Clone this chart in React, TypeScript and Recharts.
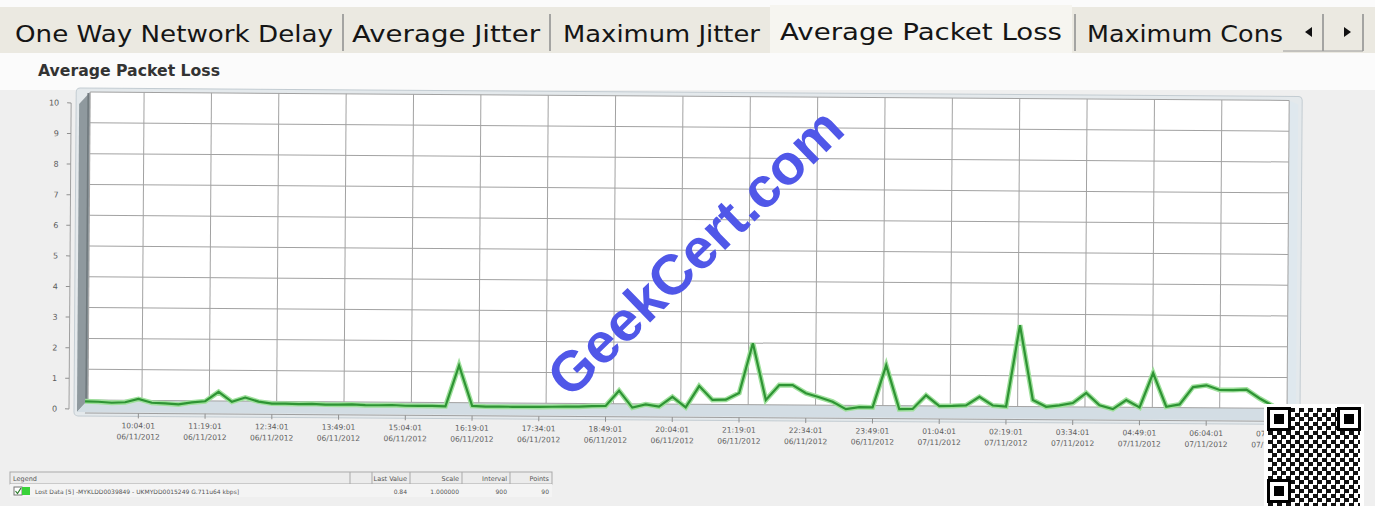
import React from "react";
import { CartesianGrid, Line, LineChart, XAxis, YAxis } from "recharts";

// Average packet loss, one sample every 15 minutes (90 points)
const lossValues = [
  0.25, 0.24, 0.21, 0.23, 0.34, 0.22, 0.2, 0.17, 0.24, 0.28,
  0.59, 0.27, 0.41, 0.28, 0.22, 0.22, 0.21, 0.22, 0.2, 0.2,
  0.21, 0.19, 0.19, 0.2, 0.18, 0.18, 0.18, 0.17, 1.51, 0.19,
  0.17, 0.17, 0.17, 0.17, 0.17, 0.18, 0.19, 0.19, 0.21, 0.22,
  0.72, 0.17, 0.28, 0.21, 0.53, 0.19, 0.89, 0.44, 0.45, 0.67,
  2.3, 0.45, 0.94, 0.94, 0.68, 0.55, 0.41, 0.17, 0.24, 0.23,
  1.61, 0.18, 0.19, 0.64, 0.29, 0.3, 0.32, 0.6, 0.32, 0.29,
  2.95, 0.51, 0.29, 0.34, 0.42, 0.75, 0.35, 0.23, 0.53, 0.29,
  1.42, 0.32, 0.4, 0.97, 1.03, 0.88, 0.88, 0.9, 0.61, 0.37,
];

const tickIndex = [4, 9, 14, 19, 24, 29, 34, 39, 44, 49, 54, 59, 64, 69, 74, 79, 84, 89];
const tickTimes = [
  "10:04:01", "11:19:01", "12:34:01", "13:49:01", "15:04:01", "16:19:01",
  "17:34:01", "18:49:01", "20:04:01", "21:19:01", "22:34:01", "23:49:01",
  "01:04:01", "02:19:01", "03:34:01", "04:49:01", "06:04:01", "07:19:01",
];
const tickDates = [
  "06/11/2012", "06/11/2012", "06/11/2012", "06/11/2012", "06/11/2012", "06/11/2012",
  "06/11/2012", "06/11/2012", "06/11/2012", "06/11/2012", "06/11/2012", "06/11/2012",
  "07/11/2012", "07/11/2012", "07/11/2012", "07/11/2012", "07/11/2012", "07/11/2012",
];
const yTicks = [0, 1, 2, 3, 4, 5, 6, 7, 8, 9, 10];

const tabLabels = ["One Way Network Delay", "Average Jitter", "Maximum Jitter", "Average Packet Loss", "Maximum Cons"];
const legendHeaders = ["Legend", "Last Value", "Scale", "Interval", "Points"];
const legendRow = ["Lost Data [5] -MYKLDD0039849 - UKMYDD0015249 G.711u64 kbps]", "0.84", "1.000000", "900", "90"];

const chartData = lossValues.map((v, i) => ({ idx: i, loss: v }));

const W = 1375;
const H = 506;
const FONT = "'DejaVu Sans', Verdana, sans-serif";

// tab text layout: [x, length, baseline]
const tabLayout = [
  [15, 318, 42],
  [352, 188, 42],
  [563, 197, 42],
  [780, 282, 40],
  [1087, 196, 42],
];

// legend table columns: [left, right]
const legendCols = [
  [10, 350],
  [372, 410],
  [410, 462],
  [462, 510],
  [510, 552],
];

function TimeTick(props: any) {
  const { x, y, payload } = props;
  const k = tickIndex.indexOf(payload.value);
  if (k < 0) return null;
  return (
    <g fill="#5c5c5c" fontFamily={FONT} fontSize={7.5} textAnchor="middle">
      <text x={x} y={y + 8}>{tickTimes[k]}</text>
      <text x={x} y={y + 19}>{tickDates[k]}</text>
    </g>
  );
}

function Tabs() {
  return (
    <svg width={W} height={90} style={{ position: "absolute", left: 0, top: 0 }}>
      <rect x={0} y={0} width={W} height={90} fill="#fbfbfb" />
      <rect x={0} y={7} width={W} height={46} fill="#ebe9e1" />
      <rect x={770} y={5} width={302} height={48} fill="#f6f5f0" />
      {[343, 550, 1075, 1323, 1363].map((x) => (
        <line key={x} x1={x} x2={x} y1={14} y2={51} stroke="#8c8c8c" strokeWidth={1.5} />
      ))}
      <line x1={1283} x2={1363} y1={51} y2={51} stroke="#9a9a9a" />
      <polygon points="1305,32 1312,27 1312,37" fill="#111" />
      <polygon points="1344,27 1351,32 1344,37" fill="#111" />
      {tabLabels.map((t, i) => (
        <text
          key={t}
          x={tabLayout[i][0]}
          y={tabLayout[i][2]}
          textLength={tabLayout[i][1]}
          lengthAdjust="spacingAndGlyphs"
          fontFamily={FONT}
          fontSize={23}
          fill="#151515"
        >
          {t}
        </text>
      ))}
      <text x={38} y={76} textLength={182} lengthAdjust="spacingAndGlyphs" fontFamily={FONT} fontWeight="bold" fontSize={15} fill="#333">
        Average Packet Loss
      </text>
    </svg>
  );
}

function PlotBox() {
  // the 3D box around the plot: left wall, floor and right wall
  return (
    <svg width={W} height={H} style={{ position: "absolute", left: 0, top: 0 }}>
      <rect x={74} y={88} width={1226} height={328} rx={4} fill="#e4e9ec" stroke="#c3ccd2" />
      <polygon points="77,104 88,92 88,400 77,412" fill="#8f999e" />
      <line x1={86} y1={93} x2={86} y2={402} stroke="#6f787c" strokeWidth={1.5} />
      <polygon points="77,412 88,400 1287,400 1278,412" fill="#d3dde4" />
      <polygon points="1287,92 1296,96 1296,410 1287,400" fill="#dfe8ee" />
    </svg>
  );
}

function QrStamp() {
  const finder = (left: number, top: number) => (
    <div style={{ position: "absolute", left, top, width: 24, height: 24, background: "#000" }}>
      <div style={{ position: "absolute", left: 3, top: 3, width: 18, height: 18, background: "#fff" }} />
      <div style={{ position: "absolute", left: 7, top: 7, width: 10, height: 10, background: "#000" }} />
    </div>
  );
  return (
    <div style={{ position: "absolute", left: 1264, top: 404, width: 100, height: 102, background: "#fff" }}>
      <div
        style={{
          position: "absolute",
          left: 4,
          top: 4,
          width: 92,
          height: 98,
          background: "repeating-conic-gradient(#111 0 25%, #fff 0 50%) 0 0 / 9px 9px",
        }}
      />
      {finder(3, 3)}
      {finder(73, 3)}
      {finder(3, 75)}
    </div>
  );
}

function LegendTable() {
  return (
    <svg width={600} height={40} style={{ position: "absolute", left: 0, top: 466 }}>
      <rect x={10} y={6} width={542} height={12} fill="#ececec" stroke="#a9a9a9" />
      <rect x={10} y={18} width={542} height={13} fill="#f4f4f4" />
      {legendCols.slice(1).map((c) => (
        <line key={c[0]} x1={c[0]} x2={c[0]} y1={6} y2={18} stroke="#a9a9a9" />
      ))}
      <line x1={legendCols[0][1]} x2={legendCols[0][1]} y1={6} y2={18} stroke="#a9a9a9" />
      {legendHeaders.map((h, i) => (
        <text
          key={h}
          x={i === 0 ? 13 : legendCols[i][1] - 3}
          y={15}
          textAnchor={i === 0 ? "start" : "end"}
          fontFamily={FONT}
          fontSize={6.5}
          fill="#555"
        >
          {h}
        </text>
      ))}
      <rect x={14} y={21} width={8} height={8} fill="#fff" stroke="#777" />
      <path d="M15.5 25 L17.5 27.5 L21 22" stroke="#2a7a2a" fill="none" strokeWidth={1.2} />
      <rect x={22} y={21} width={8} height={8} fill="#39d239" />
      {legendRow.map((v, i) => (
        <text
          key={i}
          x={i === 0 ? 35 : legendCols[i][1] - 3}
          y={28}
          textAnchor={i === 0 ? "start" : "end"}
          fontFamily={FONT}
          fontSize={6}
          fill="#555"
        >
          {v}
        </text>
      ))}
    </svg>
  );
}

export default function App() {
  return (
    <div style={{ position: "absolute", left: 0, top: 0, width: W, height: H, overflow: "hidden", background: "#efefef" }}>
      <Tabs />
      <div
        style={{
          position: "absolute",
          left: 0,
          top: 0,
          width: W,
          height: H,
          transform: "rotate(0.4deg)",
          transformOrigin: "85px 409px",
        }}
      >
        <PlotBox />
        <div style={{ position: "absolute", left: 0, top: 0 }}>
          <LineChart width={W} height={H} data={chartData} margin={{ top: 92, right: W - 1287, bottom: H - 400, left: 88 }}>
            <CartesianGrid stroke="#a2a2a2" fill="#ffffff" fillOpacity={1} />
            <XAxis dataKey="idx" type="number" domain={[0, 89]} ticks={tickIndex} interval={0} hide />
            <YAxis type="number" domain={[0, 10]} ticks={yTicks} interval={0} hide />
            <Line dataKey="loss" stroke="none" dot={false} isAnimationActive={false} />
          </LineChart>
        </div>
        <div style={{ position: "absolute", left: 0, top: 0 }}>
          <LineChart width={W} height={H} data={chartData} margin={{ top: 103, right: 42, bottom: 53, left: 0 }}>
            <XAxis xAxisId="gap" dataKey="idx" type="number" domain={[0, 89]} height={4} tick={false} axisLine={false} tickLine={false} />
            <XAxis
              xAxisId="main"
              dataKey="idx"
              type="number"
              domain={[0, 89]}
              ticks={tickIndex}
              interval={0}
              height={40}
              tickSize={5}
              tickMargin={2}
              axisLine={{ stroke: "#a0a0a0" }}
              tickLine={{ stroke: "#909090" }}
              tick={(p: any) => <TimeTick {...p} />}
            />
            <YAxis yAxisId="gap" width={16} domain={[0, 10]} tick={false} axisLine={false} tickLine={false} />
            <YAxis
              yAxisId="left"
              width={69}
              domain={[0, 10]}
              ticks={yTicks}
              interval={0}
              tickSize={4}
              tickMargin={8}
              axisLine={{ stroke: "#a0a0a0" }}
              tickLine={{ stroke: "#909090" }}
              tick={{ fontSize: 8, fill: "#5c5c5c", fontFamily: FONT }}
            />
            <YAxis
              yAxisId="right"
              orientation="right"
              width={60}
              domain={[0, 10]}
              ticks={yTicks}
              interval={0}
              tickSize={0}
              tickMargin={28}
              axisLine={false}
              tickLine={false}
              tick={{ fontSize: 8, fill: "#5c5c5c", fontFamily: FONT, dy: 6 }}
            />
            <Line xAxisId="main" yAxisId="left" dataKey="loss" stroke="#9fe09c" strokeWidth={5} dot={false} isAnimationActive={false} />
            <Line xAxisId="main" yAxisId="left" dataKey="loss" stroke="#2e9434" strokeWidth={2.2} dot={false} isAnimationActive={false} />
          </LineChart>
        </div>
      </div>
      <svg width={W} height={H} style={{ position: "absolute", left: 0, top: 0, pointerEvents: "none" }}>
        <text
          x={0}
          y={0}
          transform="translate(695 252) rotate(-44)"
          textAnchor="middle"
          dominantBaseline="central"
          fontFamily="'Liberation Sans', Arial, sans-serif"
          fontWeight="bold"
          fontSize={56}
          textLength={385}
          lengthAdjust="spacingAndGlyphs"
          fill="#5057e8"
        >
          GeekCert.com
        </text>
      </svg>
      <LegendTable />
      <QrStamp />
    </div>
  );
}
